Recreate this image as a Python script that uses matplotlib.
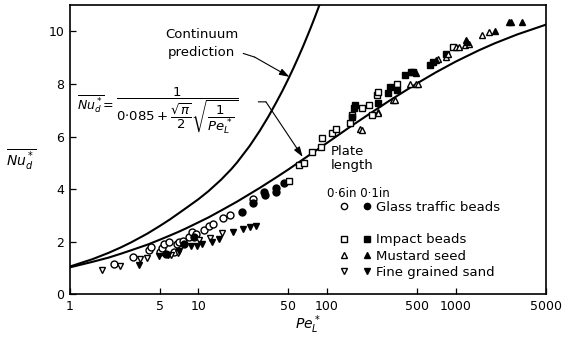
import numpy as np
import matplotlib
matplotlib.use('Agg')
import matplotlib.pyplot as plt
from matplotlib.lines import Line2D
from matplotlib.legend_handler import HandlerTuple

plt.rcParams['font.family'] = 'DejaVu Sans'
plt.rcParams['mathtext.fontset'] = 'dejavusans'

# Curvas
pe_curva = [1, 1.5, 2, 2.5, 3, 4, 5, 6, 7, 8, 10, 12, 15, 20, 30, 40, 50, 70, 100, 150, 200,
            300, 500, 700, 1000, 1500, 2000, 3000, 5000]
nu_curva = [1.03, 1.24, 1.40, 1.55, 1.68, 1.89, 2.08, 2.24, 2.38, 2.51, 2.74, 2.93, 3.19,
            3.53, 4.05, 4.44, 4.75, 5.24, 5.76, 6.36, 6.77, 7.34, 8.02, 8.44, 8.85, 9.27,
            9.54, 9.88, 10.25]

pe_continuo = [1, 1.5, 2, 2.5, 3, 4, 5, 6, 7, 8, 10, 12, 15, 18, 20, 25, 30, 35, 40, 45, 50,
               55, 60, 65, 70, 75, 80, 85, 90]
nu_continuo = [1.06, 1.34, 1.58, 1.79, 1.98, 2.31, 2.6, 2.85, 3.08, 3.28, 3.62, 3.93, 4.36,
               4.76, 5.02, 5.64, 6.22, 6.76, 7.27, 7.74, 8.19, 8.62, 9.03, 9.42, 9.8, 10.16,
               10.51, 10.85, 11.18]

# Datos experimentales (0.6 in abierto, 0.1 in lleno)
vidrio_06_pe = [2.2, 3.1, 4.15, 4.3, 5.0, 5.26, 5.41, 5.9, 6.45, 6.8, 7.05, 7.6, 8.4, 8.95,
                9.5, 11.0, 12.0, 13.1, 15.6, 17.6, 26.6]
vidrio_06_nu = [1.15, 1.41, 1.69, 1.79, 1.6, 1.75, 1.92, 2.0, 1.62, 1.9, 2.0, 2.05, 2.19, 2.38,
                2.3, 2.45, 2.6, 2.66, 2.91, 3.02, 3.62]
vidrio_01_pe = [5.6, 7.8, 9.3, 21.7, 26.6, 32.4, 32.7, 39.8, 40.3, 46.6]
vidrio_01_nu = [1.55, 1.9, 2.2, 3.14, 3.46, 3.9, 3.78, 3.9, 4.03, 4.22]

impacto_06_pe = [50.9, 60.7, 66.4, 76.8, 89.5, 91.8, 109, 118, 152, 156, 187, 210, 222, 243,
                 251, 348, 944]
impacto_06_nu = [4.32, 4.91, 4.98, 5.42, 5.61, 5.93, 6.12, 6.27, 6.5, 6.81, 7.07, 7.19, 6.81,
                 7.57, 7.7, 8.0, 9.4]
impacto_01_pe = [156, 161, 166, 251, 300, 310, 348, 405, 452, 467, 628, 667, 846]
impacto_01_nu = [6.75, 7.07, 7.19, 7.26, 7.64, 7.89, 7.76, 8.33, 8.46, 8.46, 8.71, 8.83, 9.15]

mostaza_06_pe = [181, 186, 250, 251, 326, 337, 439, 494, 509, 729, 846, 870, 1006, 1068,
                 1170, 1278, 1611, 1819]
mostaza_06_nu = [6.3, 6.24, 6.94, 6.88, 7.38, 7.38, 8.0, 8.0, 8.0, 8.96, 9.02, 9.15, 9.4, 9.4,
                 9.47, 9.53, 9.85, 9.97]
mostaza_01_pe = [494, 700, 1200, 1231, 2035, 2600, 2700, 3290]
mostaza_01_nu = [8.4, 8.9, 9.66, 9.6, 10.0, 10.35, 10.35, 10.35]

arena_06_pe = [1.78, 2.48, 3.54, 4.02, 6.1, 6.9, 10.06, 12.4, 15.2]
arena_06_nu = [0.93, 1.09, 1.34, 1.37, 1.5, 1.58, 2.07, 2.13, 2.32]
arena_01_pe = [3.47, 4.95, 5.8, 7.05, 8.7, 9.75, 10.65, 12.7, 14.5, 18.7, 22.3, 25.0, 28.2]
arena_01_nu = [1.12, 1.46, 1.5, 1.66, 1.84, 1.84, 1.92, 2.0, 2.1, 2.38, 2.47, 2.55, 2.6]

ticks_x = [1, 5, 10, 50, 100, 500, 1000, 5000]
ticks_y = [0, 2, 4, 6, 8, 10]

fig = plt.figure(figsize=(5.68, 3.38), dpi=100)
ax = fig.add_axes([0.1227, 0.1287, 0.838, 0.8565])

ax.plot(pe_curva, nu_curva, color='black', lw=1.5)
ax.plot(pe_continuo, nu_continuo, color='black', lw=1.5)

series = [
    (vidrio_06_pe, vidrio_06_nu, 'o', 'white'),
    (vidrio_01_pe, vidrio_01_nu, 'o', 'black'),
    (impacto_06_pe, impacto_06_nu, 's', 'white'),
    (impacto_01_pe, impacto_01_nu, 's', 'black'),
    (mostaza_06_pe, mostaza_06_nu, '^', 'white'),
    (mostaza_01_pe, mostaza_01_nu, '^', 'black'),
    (arena_06_pe, arena_06_nu, 'v', 'white'),
    (arena_01_pe, arena_01_nu, 'v', 'black'),
]
for pe, nu, m, fc in series:
    ax.plot(pe, nu, ls='none', marker=m, ms=5, mfc=fc, mec='black', mew=1.0)

ax.set_xscale('log')
ax.set_xlim(1, 5000)
ax.set_ylim(0, 11)
ax.set_xticks(ticks_x)
ax.set_xticklabels([str(t) for t in ticks_x])
ax.xaxis.set_minor_locator(matplotlib.ticker.NullLocator())
ax.set_yticks(ticks_y)
ax.tick_params(direction='in', length=4, width=0.9, labelsize=9, pad=4)
for s in ax.spines.values():
    s.set_linewidth(1.2)

ax.set_xlabel(r'$Pe_L^*$', fontsize=10, labelpad=0)
fig.text(21 / 568, 1 - 160 / 338, r'$\overline{Nu_d^*}$', fontsize=10, ha='center', va='center')

# Anotaciones
flecha = dict(arrowstyle='-|>,head_length=0.6,head_width=0.2', color='black', lw=0.8,
              shrinkA=0, shrinkB=0)
linea = dict(arrowstyle='-', color='black', lw=0.8, shrinkA=0, shrinkB=0)

ax.text(10.6, 9.54, 'Continuum\nprediction', fontsize=9.5, ha='center', va='center',
        linespacing=1.45)
ax.annotate('', xy=(27.4, 9.02), xytext=(22.3, 9.16), arrowprops=linea)
ax.annotate('', xy=(51, 8.27), xytext=(27.4, 9.02), arrowprops=flecha)

ax.text(1.14, 7.23, r'$\overline{Nu_d^*}$=', fontsize=9, ha='left', va='center')
ax.text(2.3, 6.98, r'$\dfrac{1}{0{\cdot}085+\dfrac{\sqrt{\pi}}{2}\sqrt{\dfrac{1}{Pe_L^*}}}$',
        fontsize=9.5, ha='left', va='center')
ax.annotate('', xy=(33.5, 7.32), xytext=(29.2, 7.32), arrowprops=linea)
ax.annotate('', xy=(64.6, 5.23), xytext=(33.5, 7.32), arrowprops=flecha)

ax.text(106, 5.18, 'Plate\nlength', fontsize=9.5, ha='left', va='center', linespacing=1.1)

# Leyenda con dos marcadores por fila
def marca(m, fc):
    return Line2D([], [], ls='none', marker=m, ms=4.5, mfc=fc, mec='black', mew=1.0)

vacio = Line2D([], [], ls='none')
handles = [(marca('o', 'white'), marca('o', 'black')), vacio,
           (marca('s', 'white'), marca('s', 'black')),
           (marca('^', 'white'), marca('^', 'black')),
           (marca('v', 'white'), marca('v', 'black'))]
labels = ['Glass traffic beads', '', 'Impact beads', 'Mustard seed', 'Fine grained sand']
leg = ax.legend(handles, labels, handler_map={tuple: HandlerTuple(ndivide=None, pad=0)},
                loc='upper left', bbox_to_anchor=(0.551, 0.324), frameon=False,
                fontsize=9.5, handlelength=3.5, handletextpad=-0.2, labelspacing=0.25,
                borderpad=0, borderaxespad=0)
ax.text(100, 3.85, '0·6in 0·1in', fontsize=8.5, ha='left', va='center')

fig.savefig('out.png', dpi=100)
